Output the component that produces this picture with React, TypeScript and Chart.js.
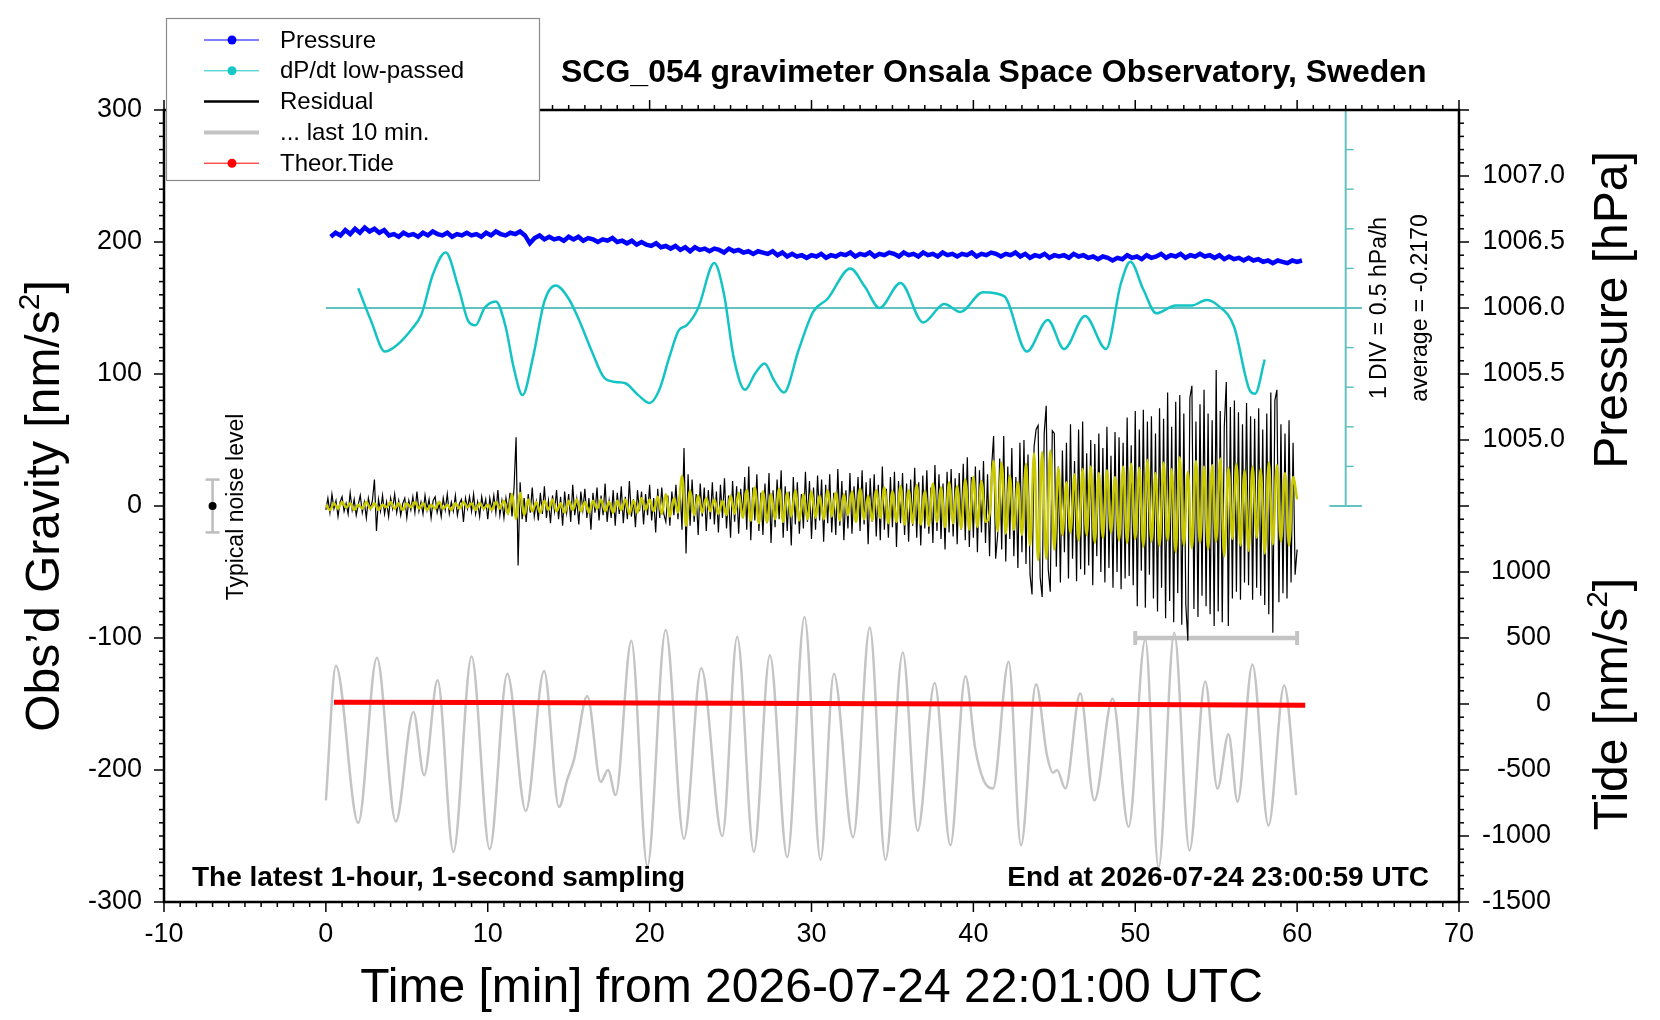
import { useEffect, useRef } from "react";
import { Chart, registerables } from "chart.js";

Chart.register(...registerables);

const FONT = "'Liberation Sans', Arial, Helvetica, sans-serif";
Chart.defaults.font.family = FONT;

// ---- data ----

// pressure [hPa], one value every 0.3 min starting at 0.3 min
const pressureStart = 0.3;
const pressureStep = 0.3;
const pressureHPa = [
  1006.54, 1006.57, 1006.55, 1006.59, 1006.56, 1006.60, 1006.57, 1006.61, 1006.58, 1006.60,
  1006.57, 1006.59, 1006.55, 1006.56, 1006.54, 1006.57, 1006.55, 1006.56, 1006.54, 1006.57,
  1006.55, 1006.58, 1006.56, 1006.55, 1006.57, 1006.54, 1006.56, 1006.55, 1006.57, 1006.55,
  1006.56, 1006.54, 1006.57, 1006.55, 1006.58, 1006.56, 1006.55, 1006.57, 1006.56, 1006.58,
  1006.55, 1006.49, 1006.53, 1006.55, 1006.52, 1006.54, 1006.52, 1006.53, 1006.51, 1006.54,
  1006.52, 1006.54, 1006.51, 1006.53, 1006.52, 1006.50, 1006.52, 1006.51, 1006.53, 1006.50,
  1006.51, 1006.49, 1006.51, 1006.48, 1006.50, 1006.48, 1006.47, 1006.49, 1006.46, 1006.47,
  1006.45, 1006.47, 1006.44, 1006.46, 1006.43, 1006.46, 1006.44, 1006.45, 1006.43, 1006.45,
  1006.44, 1006.42, 1006.45, 1006.43, 1006.44, 1006.42, 1006.43, 1006.41, 1006.43, 1006.42,
  1006.41, 1006.43, 1006.40, 1006.42, 1006.39, 1006.41, 1006.39, 1006.40, 1006.38, 1006.40,
  1006.39, 1006.41, 1006.38, 1006.40, 1006.39, 1006.41, 1006.40, 1006.42, 1006.39, 1006.41,
  1006.40, 1006.42, 1006.39, 1006.41, 1006.40, 1006.42, 1006.41, 1006.39, 1006.42, 1006.40,
  1006.41, 1006.39, 1006.42, 1006.40, 1006.41, 1006.39, 1006.42, 1006.40, 1006.41, 1006.39,
  1006.41, 1006.40, 1006.42, 1006.39, 1006.41, 1006.40, 1006.42, 1006.41, 1006.39, 1006.41,
  1006.40, 1006.42, 1006.39, 1006.41, 1006.38, 1006.40, 1006.39, 1006.41, 1006.38, 1006.40,
  1006.39, 1006.40, 1006.38, 1006.41, 1006.39, 1006.40, 1006.38, 1006.39, 1006.37, 1006.39,
  1006.38, 1006.36, 1006.38, 1006.37, 1006.40, 1006.38, 1006.39, 1006.37, 1006.40, 1006.38,
  1006.39, 1006.41, 1006.38, 1006.40, 1006.39, 1006.41, 1006.38, 1006.40, 1006.39, 1006.41,
  1006.39, 1006.40, 1006.38, 1006.40, 1006.37, 1006.39, 1006.37, 1006.38, 1006.36, 1006.38,
  1006.36, 1006.37, 1006.35, 1006.36, 1006.34, 1006.36, 1006.35, 1006.34, 1006.36, 1006.35,
  1006.36,
];

// low-passed dP/dt [hPa/h]
const dpdtMin = [
  2.0, 2.8, 3.65, 4.3, 5.3, 5.9, 6.6, 7.4, 8.2, 8.8, 9.25, 9.8, 10.5, 11.1, 11.6, 12.15,
  12.8, 13.5, 14.2, 15.0, 15.6, 16.4, 17.2, 17.9, 18.5, 19.3, 20.0, 20.6, 21.2, 21.8, 22.3,
  23.0, 24.0, 24.6, 25.2, 25.9, 26.5, 27.1, 27.7, 28.3, 29.2, 30.1, 31.0, 32.4, 33.3, 34.2,
  35.5, 36.9, 38.2, 39.2, 40.6, 41.9, 43.3, 44.6, 45.6, 46.9, 48.2, 49.1, 49.7, 50.5, 51.3,
  52.5, 53.5, 54.4, 55.1, 56.1, 57.1, 57.4, 58.0,
];
const dpdtVal = [
  0.033, -0.384, -0.767, -0.7, -0.484, -0.3, 0.2, 0.483, 0.033, -0.384, -0.434, -0.217,
  -0.134, -0.45, -0.967, -1.317, -0.834, -0.134, 0.066, -0.1, -0.35, -0.75, -1.1, -1.15,
  -1.167, -1.317, -1.417, -1.25, -0.85, -0.5, -0.434, -0.217, 0.35, -0.05, -0.85, -1.25,
  -1.05, -0.917, -1.134, -1.284, -0.75, -0.267, -0.1, 0.283, 0.05, -0.217, 0.1, -0.4,
  -0.167, -0.267, -0.017, -0.067, -0.767, -0.367, -0.734, -0.317, -0.734, 0.083, 0.366,
  0.016, -0.284, -0.184, -0.184, -0.117, -0.184, -0.45, -1.267, -1.3, -0.867,
];
const dpdtAverage = -0.217;
const dpdtDiv = 0.5; // hPa/h per division

// residual gravity [nm/s^2], every 0.125 min from 0
const residualStep = 0.125;
const residual = [
  -3, 6, -5, 9, -2, 4, -8, 3, 7, -4, 2, -6, 10, -3, 5, -7, 1, 8, -5, 3, -9, 6, -2, 4,
  20, -19, 5, -4, 8, -6, 3, -8, 6, -2, 9, -5, 4, -7, 2, 6, -9, 4, -3, 7, -5, 11, -4, 3,
  -6, 8, -3, 5, -9, 4, 7, -5, 2, -8, 6, -3, 9, -6, 3, -4, 8, -7, 2, 5, -12, 6, -2, 7,
  -4, 9, -6, 3, -8, 7, -2, 5, -10, 6, -3, 8, -5, 12, -7, 4, -9, 6, -4, 10, -8, 14, 52, -45,
  18, -10, 6, -12, 9, -5, 14, -8, 3, -11, 10, -6, 15, -9, 4, -13, 8, -4, 12, -10, 7, -15, 11, -5,
  9, -12, 16, -7, 5, -14, 11, -3, 13, -9, 6, -18, 10, -5, 14, -11, 8, -7, 17, -12, 4, -9, 12, -15,
  10, -6, 15, -13, 7, -10, 19, -8, 5, -16, 12, -4, 11, -14, 9, -7, 16, -11, 6, -20, 13, -9, 14, -6,
  -12, 8, -15, 11, -7, 16, -10, 14, -18, 44, -36, 24, -15, 20, -12, 9, -22, 17, -8, 14, -19, 12, -10, 18,
  -14, 11, -20, 16, -9, 21, -17, 8, -24, 19, -12, 15, -21, 13, -8, 22, -18, 30, -26, 14, -11, 24, -19, 10,
  -22, 17, -13, 25, -28, 12, -16, 20, -10, 27, -24, 15, -19, 11, -30, 22, -14, 18, -21, 9, -17, 26, -12, 19,
  -25, 14, -18, 23, -11, 20, -27, 16, -13, 24, -20, 10, -22, 28, -15, 19, -26, 12, -17, 25, -21, 15, -9, 22,
  -19, 27, -14, 18, -29, 21, -12, 24, -23, 16, -26, 30, -18, 13, -24, 22, -16, 26, -31, 19, -13, 25, -22, 17,
  -27, 20, -15, 29, -24, 18, -30, 23, -17, 27, -21, 14, -28, 31, -19, 24, -25, 17, -33, 26, -20, 28, -23, 21,
  -29, 25, -18, 32, -26, 37, -31, 22, -24, 30, -35, 27, -20, 34, -28, 24, -38, 29, 53, -40, -22, 36, -33, 53,
  -42, 30, -25, 44, -38, 22, -47, 48, -35, 50, -44, 39, -52, -67, 45, 58, 61, -54, -69, 55, 76, -48, -65, 57,
  55, -46, 30, -58, 42, -35, 48, -55, 62, -40, 34, -57, 58, -48, 64, -52, 40, -45, 50, -60, 47, -38, 55, -50,
  44, -58, 60, -47, 38, -62, 56, -50, 52, -63, 48, -55, 67, -53, 46, -60, 72, -76, 58, -49, 73, -77, 64, -52,
  68, -70, 55, -80, 74, -62, 66, -85, 86, -72, 60, -88, 79, -66, 84, -90, 70, -75, -102, 82, 91, -78, 64, -84,
  77, -68, 88, -76, 70, -82, 65, -91, 103, -80, 72, -88, 60, 94, -91, 75, -70, 80, -65, 71, -71, 62, -58, 78,
  -60, 68, -71, 66, -62, 74, -68, 58, -75, 70, -82, 86, -96, 80, 88, -73, 62, -66, 55, -70, 65, -58, 48, -52,
  -33,
];

// band-passed residual (yellow trace), every 0.25 min from 0
const filteredStep = 0.25;
const filtered = [
  1, -3, 2, -2, 3, -1, 2, -3, 1, -2, 3, -2, 2, -3, 1, -1, 3, -2, 2, -3, 2, -1, 3, -2,
  2, -3, 1, -2, 3, -2, 1, -3, 2, -2, 3, -1, 2, -3, 2, -2, 1, -3, 3, -2, 4, -6, 9, -10,
  10, -7, 5, -4, 3, -5, 4, -3, 5, -4, 2, -5, 4, -3, 5, -4, 3, -5, 4, -2, 5, -4, 3, -5,
  4, -3, 5, -6, 4, -5, 6, -3, 5, -4, 7, -6, 9, -8, 6, -5, 23, -15, 12, -7, 8, -5, 6, -4,
  5, -6, 4, -7, 8, -6, 10, -9, 12, -11, 14, -13, 11, -12, 9, -10, 13, -12, 10, -8, 12, -11, 9, -10,
  11, -9, 8, -10, 12, -8, 10, -11, 9, -7, 11, -12, 13, -10, 8, -11, 12, -9, 14, -13, 11, -12, 15, -14,
  12, -13, 16, -14, 11, -15, 17, -12, 14, -16, 18, -13, 15, -17, 20, -18, 22, -16, 19, -12, -6, 34, -19, 33,
  -21, 23, -18, 18, -22, 32, -30, 40, -41, 41, -40, 42, -33, 29, -22, 18, -20, 24, -26, 28, -22, 30, -28, 25,
  -24, 27, -20, 22, -26, 30, -28, 32, -25, 29, -31, 35, -27, 25, -30, 33, -26, 28, -35, 37, -30, 26, -32, 34,
  -28, 30, -33, 31, -27, 36, -38, 29, -25, 32, -30, 27, -34, 30, -24, 28, -36, 33, -29, 31, -27, 25, -30, 22,
  5,
];

// "... last 10 min." trace (stretched over the hour), turning points
const lastMin = [
  0.0, 0.62, 2.0, 3.15, 4.32, 5.41, 6.07, 6.9, 7.88, 9.0, 10.12, 11.21, 12.35, 13.48, 14.4,
  14.92, 15.33, 16.15, 16.98, 17.43, 17.9, 18.87, 19.86, 20.99, 22.12, 23.19, 24.49, 25.41,
  26.44, 27.43, 28.5, 29.57, 30.56, 31.38, 32.57, 33.6, 34.57, 35.64, 36.56, 37.61, 38.58,
  39.51, 40.12, 40.64, 41.21, 42.18, 42.94, 43.87, 44.55, 44.92, 45.17, 45.68, 46.6, 47.47,
  48.6, 49.59, 50.62, 51.44, 52.41, 53.35, 54.32, 55.08, 55.76, 56.32, 57.24, 58.23, 59.2, 59.94,
];
const lastVal = [
  -223, -121, -240, -115, -239, -156, -204, -132, -262, -114, -260, -127, -231, -125, -228,
  -207, -192, -144, -209, -200, -219, -102, -273, -94, -252, -123, -250, -99, -262, -113,
  -266, -84, -268, -127, -251, -92, -268, -111, -246, -134, -257, -129, -184, -208, -214,
  -118, -257, -135, -189, -202, -200, -214, -142, -223, -146, -243, -101, -274, -96, -261,
  -133, -214, -173, -224, -120, -242, -136, -219,
];
const lastWindow = [50, 60];
const lastBracketLevel = -100;

// theoretical tide [nm/s^2]
const tideMin = [0.5, 10, 20, 30, 40, 50, 60.5];
const tideVal = [13, 11, 7, 3, 0, -4, -9];

// typical noise level
const noiseAt = -7;
const noiseLevel = 20;

// right-hand tick labels
const pressureTicks = [1005.0, 1005.5, 1006.0, 1006.5, 1007.0];
const tideTicks = [-1500, -1000, -500, 0, 500, 1000];

const legendItems = [
  { label: "Pressure", color: "#0000ff", width: 1, marker: true },
  { label: "dP/dt low-passed", color: "#19c6c6", width: 1, marker: true },
  { label: "Residual", color: "#000000", width: 2.5, marker: false },
  { label: "... last 10 min.", color: "#c4c4c4", width: 4, marker: false },
  { label: "Theor.Tide", color: "#ff0000", width: 1, marker: true },
];

const BAR_CYAN = "#62c1c1";

const xy = (xs: number[], ys: number[]) => xs.map((x, i) => ({ x, y: ys[i] }));
const stepped = (start: number, step: number, ys: number[]) =>
  ys.map((y, i) => ({ x: start + i * step, y }));

function seg(ctx: CanvasRenderingContext2D, x1: number, y1: number, x2: number, y2: number) {
  ctx.beginPath();
  ctx.moveTo(x1, y1);
  ctx.lineTo(x2, y2);
  ctx.stroke();
}

// text with an optional superscript piece, centred on (cx, cy) along its baseline
function supText(ctx: CanvasRenderingContext2D, parts: [string, boolean][], cx: number, cy: number, size: number, rotated: boolean) {
  ctx.save();
  ctx.translate(cx, cy);
  if (rotated) ctx.rotate(-Math.PI / 2);
  ctx.textAlign = "left";
  ctx.textBaseline = "alphabetic";
  const widths = parts.map(([s, sup]) => {
    ctx.font = `${sup ? Math.round(size * 0.62) : size}px ${FONT}`;
    return ctx.measureText(s).width;
  });
  let x = -widths.reduce((a, b) => a + b, 0) / 2;
  parts.forEach(([s, sup], i) => {
    ctx.font = `${sup ? Math.round(size * 0.62) : size}px ${FONT}`;
    ctx.fillText(s, x, sup ? -size * 0.42 : 0);
    x += widths[i];
  });
  ctx.restore();
}

function rotText(ctx: CanvasRenderingContext2D, s: string, cx: number, cy: number, font: string) {
  ctx.save();
  ctx.translate(cx, cy);
  ctx.rotate(-Math.PI / 2);
  ctx.font = font;
  ctx.textAlign = "center";
  ctx.textBaseline = "middle";
  ctx.fillText(s, 0, 0);
  ctx.restore();
}

const decorations = {
  id: "decorations",
  beforeDatasetsDraw(chart: any) {
    const { ctx, scales } = chart;
    const { x, y, yD } = scales;
    ctx.save();
    ctx.lineCap = "butt";

    // dP/dt reference line and scale bar
    const barAt = 63;
    ctx.strokeStyle = BAR_CYAN;
    ctx.lineWidth = 2;
    const ya = yD.getPixelForValue(dpdtAverage);
    seg(ctx, x.getPixelForValue(0), ya, x.getPixelForValue(barAt + 1), ya);
    const bx = x.getPixelForValue(barAt);
    const yTop = yD.getPixelForValue(dpdtAverage + 5 * dpdtDiv);
    const yBot = yD.getPixelForValue(dpdtAverage - 5 * dpdtDiv);
    seg(ctx, bx, yTop, bx, yBot);
    seg(ctx, x.getPixelForValue(barAt - 1), yTop, x.getPixelForValue(barAt + 1), yTop);
    seg(ctx, x.getPixelForValue(barAt - 1), yBot, x.getPixelForValue(barAt + 1), yBot);
    ctx.lineWidth = 1.5;
    for (let k = -4; k <= 4; k++) {
      if (k === 0) continue;
      const yy = yD.getPixelForValue(dpdtAverage + k * dpdtDiv);
      seg(ctx, bx, yy, bx + 8, yy);
    }

    // bracket marking the last 10 minutes
    ctx.strokeStyle = "#c4c4c4";
    ctx.lineWidth = 4.5;
    const yb = y.getPixelForValue(lastBracketLevel);
    const x1 = x.getPixelForValue(lastWindow[0]);
    const x2 = x.getPixelForValue(lastWindow[1]);
    seg(ctx, x1, yb, x2, yb);
    ctx.lineWidth = 4;
    seg(ctx, x1, yb - 7, x1, yb + 7);
    seg(ctx, x2, yb - 7, x2, yb + 7);

    // typical noise level
    const xn = x.getPixelForValue(noiseAt);
    ctx.strokeStyle = "#bdbdbd";
    ctx.lineWidth = 2.5;
    const yn1 = y.getPixelForValue(noiseLevel);
    const yn2 = y.getPixelForValue(-noiseLevel);
    seg(ctx, xn, yn1, xn, yn2);
    seg(ctx, xn - 7, yn1, xn + 7, yn1);
    seg(ctx, xn - 7, yn2, xn + 7, yn2);
    ctx.fillStyle = "#000";
    ctx.beginPath();
    ctx.arc(xn, y.getPixelForValue(0), 4, 0, Math.PI * 2);
    ctx.fill();
    ctx.restore();
  },
  afterDraw(chart: any) {
    const { ctx, scales, chartArea } = chart;
    const { x, y, yP, yT } = scales;
    const { left, right, top, bottom } = chartArea;
    ctx.save();

    // frame
    ctx.strokeStyle = "#000";
    ctx.lineWidth = 2.5;
    ctx.strokeRect(left, top, right - left, bottom - top);

    // tick marks, all pointing outwards
    ctx.lineWidth = 1.5;
    for (let t = -10; t <= 70; t++) {
      const px = x.getPixelForValue(t);
      const len = t % 10 === 0 ? 10 : 5;
      seg(ctx, px, bottom, px, bottom + len);
      seg(ctx, px, top, px, top - len);
    }
    for (let v = -300; v <= 300; v += 10) {
      const py = y.getPixelForValue(v);
      seg(ctx, left, py, left - (v % 100 === 0 ? 10 : 5), py);
      seg(ctx, right, py, right + (v % 50 === 0 ? 10 : 5), py);
    }

    // right-hand labels
    ctx.fillStyle = "#000";
    ctx.font = `27px ${FONT}`;
    ctx.textAlign = "right";
    ctx.textBaseline = "middle";
    pressureTicks.forEach((p) => ctx.fillText(p.toFixed(1), 1565, yP.getPixelForValue(p)));
    tideTicks.forEach((t) => ctx.fillText(String(t), 1551, yT.getPixelForValue(t)));

    // axis titles
    supText(ctx, [["Time [min] from 2026-07-24 22:01:00 UTC", false]], (left + right) / 2, 1002, 48, false);
    supText(ctx, [["Obs\u2019d Gravity [nm/s", false], ["2", true], ["]", false]], 59, 506, 48, true);
    supText(ctx, [["Pressure [hPa]", false]], 1627, 310, 48, true);
    supText(ctx, [["Tide [nm/s", false], ["2", true], ["]", false]], 1627, 704, 48, true);

    // annotations
    ctx.textBaseline = "alphabetic";
    ctx.textAlign = "left";
    ctx.font = `bold 32px ${FONT}`;
    ctx.fillText("SCG_054 gravimeter Onsala Space Observatory, Sweden", 561, 82);
    ctx.font = `bold 28px ${FONT}`;
    ctx.fillText("The latest 1-hour, 1-second sampling", 192, 886);
    ctx.textAlign = "right";
    ctx.fillText("End at 2026-07-24 23:00:59 UTC", 1429, 886);
    rotText(ctx, "Typical noise level", 237, 507, `23px ${FONT}`);
    rotText(ctx, "1 DIV = 0.5 hPa/h", 1380, 308, `23px ${FONT}`);
    rotText(ctx, "average = -0.2170", 1421, 308, `23px ${FONT}`);

    // legend
    const lx = 166, ly = 18, lw = 373, lh = 162;
    ctx.fillStyle = "#fff";
    ctx.fillRect(lx, ly, lw, lh);
    ctx.strokeStyle = "#8a8a8a";
    ctx.lineWidth = 1.2;
    ctx.strokeRect(lx + 0.5, ly + 0.5, lw, lh);
    ctx.font = `24px ${FONT}`;
    ctx.textAlign = "left";
    ctx.textBaseline = "middle";
    legendItems.forEach((item, i) => {
      const yy = 40 + i * 30.8;
      ctx.strokeStyle = item.color;
      ctx.lineWidth = item.width;
      seg(ctx, 204, yy, 259, yy);
      if (item.marker) {
        ctx.fillStyle = item.color;
        ctx.beginPath();
        ctx.arc(232, yy, 4.5, 0, Math.PI * 2);
        ctx.fill();
      }
      ctx.fillStyle = "#000";
      ctx.fillText(item.label, 280, yy + 1);
    });
    ctx.restore();
  },
};

const tickFont = { size: 27, family: FONT };

export default function App() {
  const canvasRef = useRef<HTMLCanvasElement | null>(null);

  useEffect(() => {
    if (!canvasRef.current) return;
    const chart = new Chart(canvasRef.current, {
      type: "line",
      data: {
        datasets: [
          {
            label: "filtered",
            data: stepped(0, filteredStep, filtered),
            yAxisID: "y",
            borderColor: "#c9c900",
            borderWidth: 2.5,
            cubicInterpolationMode: "monotone",
            order: 1,
          },
          {
            label: "Residual",
            data: stepped(0, residualStep, residual),
            yAxisID: "y",
            borderColor: "#000000",
            borderWidth: 1.2,
            tension: 0,
            order: 2,
          },
          {
            label: "Theor.Tide",
            data: xy(tideMin, tideVal),
            yAxisID: "yT",
            borderColor: "#ff0000",
            borderWidth: 5,
            order: 3,
          },
          {
            label: "... last 10 min.",
            data: xy(lastMin, lastVal),
            yAxisID: "y",
            borderColor: "#c4c4c4",
            borderWidth: 2.5,
            cubicInterpolationMode: "monotone",
            order: 4,
          },
          {
            label: "Pressure",
            data: stepped(pressureStart, pressureStep, pressureHPa),
            yAxisID: "yP",
            borderColor: "#0000ff",
            borderWidth: 4.5,
            tension: 0,
            order: 5,
          },
          {
            label: "dP/dt low-passed",
            data: xy(dpdtMin, dpdtVal),
            yAxisID: "yD",
            borderColor: "#14c4c4",
            borderWidth: 2.5,
            cubicInterpolationMode: "monotone",
            order: 6,
          },
        ],
      },
      options: {
        responsive: false,
        animation: false,
        events: [],
        layout: { padding: { top: 110, right: 201, left: 0, bottom: 0 } },
        elements: { point: { radius: 0 } },
        plugins: { legend: { display: false }, tooltip: { enabled: false } },
        scales: {
          x: {
            type: "linear",
            min: -10,
            max: 70,
            ticks: { stepSize: 10, font: tickFont, color: "#000", padding: 16 },
            grid: { display: false, drawTicks: false },
            border: { display: false },
            afterFit: (s: any) => {
              s.height = 118;
            },
          },
          y: {
            type: "linear",
            min: -300,
            max: 300,
            ticks: { stepSize: 100, font: tickFont, color: "#000", padding: 22 },
            grid: { display: false, drawTicks: false },
            border: { display: false },
            afterFit: (s: any) => {
              s.width = 164;
            },
          },
          yP: { type: "linear", display: false, min: 1001.5, max: 1007.5 },
          yT: { type: "linear", display: false, min: -1500, max: 4500 },
          yD: { type: "linear", display: false, min: dpdtAverage - 15 * dpdtDiv, max: dpdtAverage + 5 * dpdtDiv },
        },
      },
      plugins: [decorations],
    } as any);
    return () => chart.destroy();
  }, []);

  return (
    <div style={{ position: "absolute", left: 0, top: 0, width: 1660, height: 1020, background: "#fff" }}>
      <canvas ref={canvasRef} width={1660} height={1020} style={{ display: "block" }} />
    </div>
  );
}
